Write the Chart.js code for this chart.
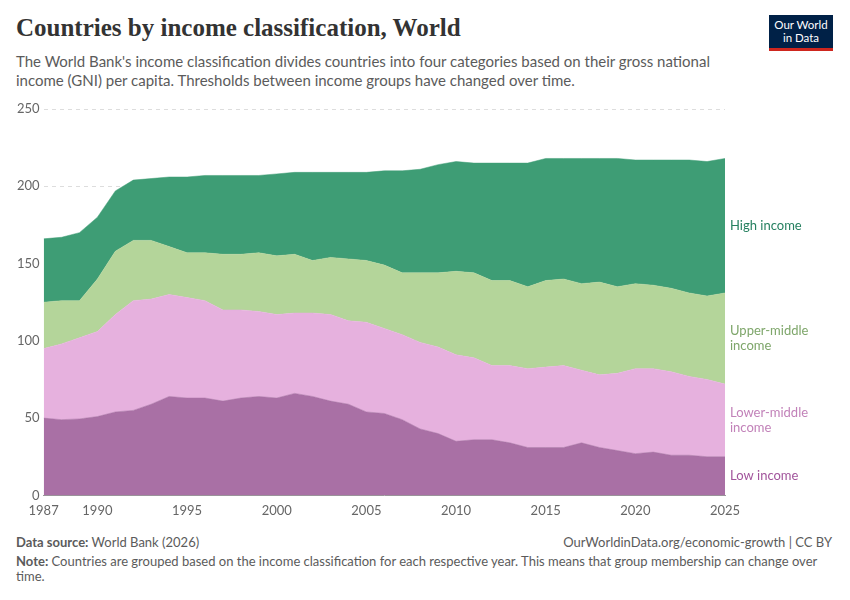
<!DOCTYPE html>
<html><head><meta charset="utf-8">
<script src="https://cdn.jsdelivr.net/npm/chart.js@4"></script>
<style>
body{margin:0;background:#fff;font-family:Lato,sans-serif;width:850px;height:600px;position:relative;overflow:hidden}
#t{position:absolute;left:16px;top:14px;font-family:"Liberation Serif",serif;font-size:25px;font-weight:bold;color:#333}
#s{position:absolute;left:16px;top:52px;font-size:15px;color:#5b5b5b;line-height:19px;width:720px}
#logo{position:absolute;left:769px;top:15px;width:64px;height:36px;background:#002147;color:#fff;font-size:11.5px;line-height:13px;text-align:center;padding-top:3px;box-sizing:border-box;border-bottom:3px solid #ce261e}
#c{position:absolute;left:0;top:95px;width:850px;height:427px}
.f{position:absolute;font-size:13px;color:#5b5b5b}
</style></head><body>
<div id="t">Countries by income classification, World</div>
<div id="s">The World Bank's income classification divides countries into four categories based on their gross national income (GNI) per capita. Thresholds between income groups have changed over time.</div>
<div id="logo">Our World<br>in Data</div>
<div id="c"><canvas id="cv" width="850" height="427"></canvas></div>
<div class="f" style="left:16px;top:534px"><b>Data source:</b> World Bank (2026)</div>
<div class="f" style="right:18px;top:534px">OurWorldinData.org/economic-growth | CC BY</div>
<div class="f" style="left:16px;top:554px;width:810px;line-height:15px"><b>Note:</b> Countries are grouped based on the income classification for each respective year. This means that group membership can change over time.</div>
<script>
const years=[];for(let y=1987;y<=2025;y++)years.push(y);
const topLow=[50,49,49.5,51,54,55,59,64,63,63,61,63,64,63,66,64,61,59,54,53,49,43,40,35,36,36,34,31,31,31,34,31,29,27,28,26,26,25,25];
const topLowerMiddle=[95,98,102,106,117,126,127,130,128,126,120,120,119,117,118,118,117,113,112,108,104,99,96,91,89,84,84,82,83,84,81,78,79,82,82,80,77,75,72];
const topUpperMiddle=[125,126,126,140,158,165,165,161,157,157,156,156,157,155,156,152,154,153,152,149,144,144,144,145,144,139,139,135,139,140,137,138,135,137,136,134,131,129,131];
const topHigh=[166,167,170,180,197,204,205,206,206,207,207,207,207,208,209,209,209,209,209,210,210,211,214,216,215,215,215,215,218,218,218,218,218,217,217,217,217,216,218];
const xTicks=[1987,1990,1995,2000,2005,2010,2015,2020,2025];
const groups=[
 {name:["Low income"],vals:topLow,color:"#a970a5",text:"#a2559c"},
 {name:["Lower-middle","income"],vals:topLowerMiddle,color:"#e6b1de",text:"#c282b9"},
 {name:["Upper-middle","income"],vals:topUpperMiddle,color:"#b4d59a",text:"#7ea66a"},
 {name:["High income"],vals:topHigh,color:"#3e9d75",text:"#268060"}];
const datasets=groups.map((g,i)=>({label:g.name.join(" "),data:years.map((y,j)=>({x:y,y:g.vals[j]})),
 backgroundColor:g.color,borderColor:g.color,borderWidth:0.5,pointRadius:0,fill:i===0?'origin':'-1',tension:0}));
const labels={id:'lab',afterDraw(ch){const c=ch.ctx,ys=ch.scales.y,n=years.length-1;c.save();c.font="13px Lato";c.textBaseline="middle";
 groups.forEach((g,i)=>{const lo=i?groups[i-1].vals[n]:0;const mid=ys.getPixelForValue((lo+g.vals[n])/2);c.fillStyle=g.text;
 g.name.forEach((t,k)=>c.fillText(t,730,mid+(k-(g.name.length-1)/2)*15));});c.restore();}};
new Chart(document.getElementById('cv'),{type:'line',data:{datasets},plugins:[labels],
options:{responsive:false,animation:false,layout:{padding:{left:13,right:125,top:14,bottom:0}},
plugins:{legend:{display:false},tooltip:{enabled:false}},
scales:{x:{type:'linear',min:1987,max:2025,afterBuildTicks:a=>{a.ticks=xTicks.map(v=>({value:v}))},
 grid:{display:false,drawTicks:true,tickLength:5,color:'#999'},border:{color:'#999'},
 ticks:{color:'#666',font:{family:'Lato',size:13},maxRotation:0,autoSkip:false,callback:v=>String(v)}},
 y:{min:0,max:250,ticks:{stepSize:50,color:'#666',font:{family:'Lato',size:13},padding:4},
 grid:{color:'#ddd',borderDash:[4,4],drawTicks:false},border:{display:false,dash:[4,4]}}}}});
</script></body></html>
